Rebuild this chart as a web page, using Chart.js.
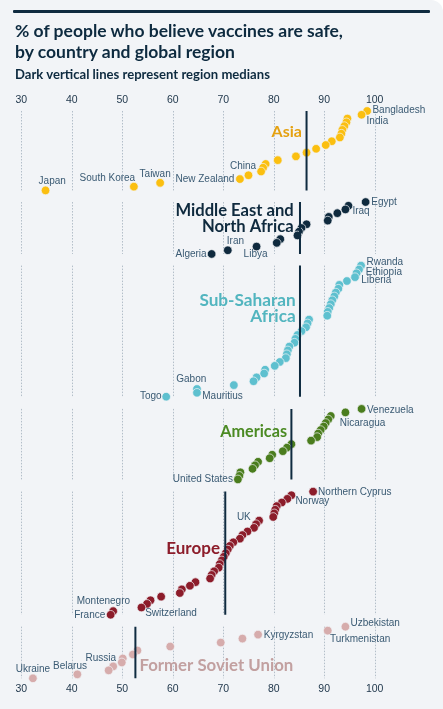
<!DOCTYPE html>
<html>
<head>
<meta charset="utf-8">
<script src="https://cdn.jsdelivr.net/npm/chart.js@4.4.1/dist/chart.umd.min.js"></script>
<style>
  html, body { margin: 0; padding: 0; background: #ffffff; }
  #card { position: relative; width: 443px; height: 709px; background: #f2f4f7; border-top-right-radius: 12px; overflow: hidden; font-family: Lato, "Noto Sans", sans-serif; }
  #bar { position: absolute; left: 13px; top: 9.5px; width: 417px; height: 3px; background: #0f2b40; border-radius: 1px; }
  #title { position: absolute; left: 15px; top: 20px; margin: 0; font-size: 17.5px; line-height: 21px; font-weight: 700; color: #0d2a3f; }
  #sub { position: absolute; left: 15px; top: 65.5px; margin: 0; font-size: 13.1px; line-height: 16px; font-weight: 700; color: #0d2a3f; }
  canvas { position: absolute; left: 0; top: 0; }
</style>
</head>
<body>
<div id="card">
  <canvas id="chart" width="443" height="709"></canvas>
  <div id="bar"></div>
  <h1 id="title">% of people who believe vaccines are safe,<br>by country and global region</h1>
  <h2 id="sub">Dark vertical lines represent region medians</h2>
</div>
<script>
// values per region, sorted from highest to lowest (rank 0 = top row)
const regionNames = ['Asia', 'Middle East and North Africa', 'Sub-Saharan Africa', 'Americas', 'Europe', 'Former Soviet Union'];
const asiaValues = [98.5, 97.4, 94.6, 94.4, 94.0, 93.6, 93.4, 93.1, 91.5, 90.3, 88.4, 86.5, 84.4, 80.8, 78.4, 77.9, 77.5, 75.0, 73.3, 57.5, 52.3, 34.8];
const menaValues = [98.2, 94.8, 94.2, 92.6, 90.9, 90.7, 86.5, 85.5, 85.0, 84.7, 81.3, 80.6, 76.6, 70.9, 67.7];
const ssaValues = [97.3, 96.9, 96.4, 96.1, 94.5, 93.0, 92.8, 92.3, 92.0, 91.6, 91.3, 91.0, 90.7, 90.6, 87.0, 86.7, 86.4, 85.5, 84.7, 84.3, 84.1, 83.1, 82.8, 82.6, 82.4, 81.2, 80.2, 78.3, 78.1, 76.6, 76.0, 72.1, 64.8, 64.8, 58.7];
const americasValues = [97.4, 94.2, 91.3, 90.8, 90.3, 89.9, 89.3, 88.8, 88.6, 87.4, 83.5, 82.6, 81.8, 79.7, 79.2, 76.9, 76.3, 75.8, 73.4, 73.2, 72.9];
const europeValues = [87.8, 83.5, 82.7, 81.6, 80.6, 80.3, 80.1, 79.9, 77.1, 76.5, 76.1, 74.8, 73.8, 73.3, 72.0, 71.3, 70.9, 70.5, 70.1, 69.7, 69.3, 69.1, 68.2, 67.7, 67.4, 64.5, 63.4, 61.8, 61.4, 57.7, 55.6, 54.9, 53.8, 48.2, 47.7];
const fsuValues = [94.2, 90.7, 76.9, 73.8, 69.5, 59.5, 53.0, 52.1, 50.1, 49.9, 48.2, 47.3, 41.1, 32.3];
const regionMedians = [86.5, 85.2, 85.2, 83.5, 70.4, 52.6];

// labelled countries: [rank within region, name]
const asiaLabels = [[0, 'Bangladesh'], [1, 'India'], [15, 'China'], [18, 'New Zealand'], [19, 'Taiwan'], [20, 'South Korea'], [21, 'Japan']];
const menaLabels = [[0, 'Egypt'], [2, 'Iraq'], [12, 'Libya'], [13, 'Iran'], [14, 'Algeria']];
const ssaLabels = [[0, 'Rwanda'], [2, 'Ethiopia'], [3, 'Liberia'], [32, 'Gabon'], [33, 'Mauritius'], [34, 'Togo']];
const americasLabels = [[0, 'Venezuela'], [2, 'Nicaragua'], [20, 'United States']];
const europeLabels = [[0, 'Northern Cyprus'], [1, 'Norway'], [8, 'UK'], [32, 'Switzerland'], [33, 'Montenegro'], [34, 'France']];
const fsuLabels = [[0, 'Uzbekistan'], [1, 'Turkmenistan'], [2, 'Kyrgyzstan'], [8, 'Russia'], [12, 'Belarus'], [13, 'Ukraine']];

const xTicks = [30, 40, 50, 60, 70, 80, 90, 100];

const regionValues = [asiaValues, menaValues, ssaValues, americasValues, europeValues, fsuValues];
const regionLabels = [asiaLabels, menaLabels, ssaLabels, americasLabels, europeLabels, fsuLabels];

// layout / style
const dotColors = ['#fbbf10', '#0f2a3e', '#5ec0cf', '#4b7d1e', '#8c1c2a', '#d6acac'];
const titleColors = ['#e5a110', '#0f2a3e', '#52b5bf', '#4b8a23', '#8c1c2a', '#c2a0a0'];
const panels = [ // height px, pad above first row, pad below last row
  { id: 'yAsia', h: 89.3, pt: 3.4, pb: 5.9 },
  { id: 'yMena', h: 64, pt: 5.8, pb: 5.9 },
  { id: 'ySsa', h: 144, pt: 5.8, pb: 6.2 },
  { id: 'yAm', h: 83.3, pt: 6.1, pb: 6.2 },
  { id: 'yEu', h: 136.1, pt: 6.1, pb: 6.0 },
  { id: 'yFsu', h: 59.7, pt: 6.0, pb: 1.7 }
];
// region title: align, dx from median line, dy from first row, lines
const regionTitles = [
  { align: 'right', dx: -4.7, dy: 20.7, lines: ['Asia'], size: 16 },
  { align: 'right', dx: -6.3, dy: 8.3, lines: ['Middle East and', 'North Africa'], size: 16.6 },
  { align: 'right', dx: -4.3, dy: 35, lines: ['Sub-Saharan', 'Africa'], size: 17.2 },
  { align: 'right', dx: -4.4, dy: 23, lines: ['Americas'], size: 16.2 },
  { align: 'right', dx: -5.3, dy: 56.7, lines: ['Europe'], size: 17 },
  { align: 'left', dx: 4, dy: 38.7, lines: ['Former Soviet Union'], size: 16.8 }
];
const labelPlace = {
  'Bangladesh': ['left', 5.3, -1], 'India': ['left', 5, 6], 'China': ['right', -7, -1], 'New Zealand': ['right', -5.5, 0],
  'Taiwan': ['center', -5, -8.7], 'South Korea': ['right', 1.3, -8.6], 'Japan': ['center', 6.7, -9.3],
  'Egypt': ['left', 5.7, 0], 'Iraq': ['left', 7, 1.4], 'Iran': ['left', -1, -9.3], 'Libya': ['center', -1, 7.7], 'Algeria': ['right', -5, 0],
  'Rwanda': ['left', 5.4, -3], 'Ethiopia': ['left', 9.3, -1], 'Liberia': ['left', 6.3, 3], 'Gabon': ['center', -5.7, -9.3],
  'Mauritius': ['left', 5.3, 3.7], 'Togo': ['right', -4.6, 0],
  'Venezuela': ['left', 5.4, 1], 'Nicaragua': ['left', 9, 7.7], 'United States': ['right', -5, 0],
  'Northern Cyprus': ['left', 5, 1], 'Norway': ['left', 4, 6], 'UK': ['right', -8.3, -3], 'Switzerland': ['left', 3.7, 5.3],
  'Montenegro': ['center', -9.8, -9.4], 'France': ['right', -5.4, 0],
  'Uzbekistan': ['left', 5, -3.3], 'Turkmenistan': ['left', 2.3, 8.7], 'Kyrgyzstan': ['left', 5.7, 1], 'Russia': ['right', -6.7, -0.6],
  'Belarus': ['center', -7.3, -8], 'Ukraine': ['center', 0, -8.6]
};

const tickFont = { family: 'Liberation Sans', size: 10.5 };
const scales = {
  x: { type: 'linear', position: 'bottom', min: 30, max: 100,
       afterBuildTicks: s => { s.ticks = xTicks.map(v => ({ value: v })); },
       grid: { display: false, drawTicks: false }, border: { display: false },
       ticks: { color: '#1d3449', font: tickFont, padding: 3 } },
  xTop: { type: 'linear', position: 'top', min: 30, max: 100,
       afterBuildTicks: s => { s.ticks = xTicks.map(v => ({ value: v })); },
       grid: { display: false, drawTicks: false }, border: { display: false },
       ticks: { color: '#1d3449', font: tickFont, padding: 1 } }
};
panels.forEach((p, i) => {
  const n = regionValues[i].length;
  const step = (p.h - p.pt - p.pb) / (n - 1);
  scales[p.id] = {
    type: 'linear', position: 'left', stack: 'regions', stackWeight: p.h, weight: 10 - i,
    reverse: true, min: -p.pt / step, max: n - 1 + p.pb / step,
    grid: { display: false, drawTicks: false }, border: { display: false }, ticks: { display: false }
  };
});

const datasets = [];
panels.forEach((p, i) => {
  const n = regionValues[i].length;
  datasets.push({
    type: 'line', label: regionNames[i] + ' median', xAxisID: 'x', yAxisID: p.id,
    data: [{ x: regionMedians[i], y: 0 }, { x: regionMedians[i], y: n - 1 }],
    borderColor: '#0f2b40', borderWidth: 2, pointRadius: 0, clip: false
  });
});
panels.forEach((p, i) => {
  datasets.push({
    type: 'scatter', label: regionNames[i], xAxisID: 'x', yAxisID: p.id,
    data: regionValues[i].map((v, k) => ({ x: v, y: k })),
    backgroundColor: dotColors[i], borderColor: '#f2f4f7', borderWidth: 0.7,
    pointRadius: 4.3, pointHoverRadius: 4.3, clip: false
  });
});

const gridPlugin = {
  id: 'panelGrid',
  beforeDatasetsDraw(chart) {
    const ctx = chart.ctx, xs = chart.scales.x;
    ctx.save();
    ctx.strokeStyle = '#b3bec9';
    ctx.lineWidth = 1;
    ctx.setLineDash([1.5, 1.5]);
    panels.forEach((p, i) => {
      const ys = chart.scales[p.id];
      const y0 = ys.getPixelForValue(0), y1 = ys.getPixelForValue(regionValues[i].length - 1);
      xTicks.forEach(v => {
        const x = Math.round(xs.getPixelForValue(v)) + 0.5;
        ctx.beginPath(); ctx.moveTo(x, y0); ctx.lineTo(x, y1); ctx.stroke();
      });
    });
    ctx.restore();
  }
};

const labelPlugin = {
  id: 'countryLabels',
  afterDatasetsDraw(chart) {
    const ctx = chart.ctx, xs = chart.scales.x;
    ctx.save();
    ctx.textBaseline = 'middle';
    // region names
    panels.forEach((p, i) => {
      const ys = chart.scales[p.id];
      const t = regionTitles[i];
      const x = xs.getPixelForValue(regionMedians[i]) + t.dx;
      const y = ys.getPixelForValue(0) + t.dy;
      ctx.font = '700 ' + t.size + 'px Lato';
      ctx.fillStyle = titleColors[i];
      ctx.textAlign = t.align;
      t.lines.forEach((line, k) => ctx.fillText(line, x, y + k * 16));
    });
    // countries
    ctx.font = '10px "Liberation Sans"';
    ctx.fillStyle = '#3a5a73';
    panels.forEach((p, i) => {
      const meta = chart.getDatasetMeta(panels.length + i);
      regionLabels[i].forEach(([idx, name]) => {
        const pt = meta.data[idx];
        const [align, dx, dy] = labelPlace[name];
        ctx.textAlign = align;
        ctx.fillText(name, pt.x + dx, pt.y + dy);
      });
    });
    ctx.restore();
  }
};

new Chart(document.getElementById('chart').getContext('2d'), {
  data: { datasets: datasets },
  options: {
    responsive: false,
    animation: false,
    events: [],
    layout: { autoPadding: false, padding: { left: 21.3, right: 68.3, top: 93, bottom: 10.4 } },
    scales: scales,
    plugins: { legend: { display: false }, tooltip: { enabled: false } }
  },
  plugins: [gridPlugin, labelPlugin]
});
</script>
</body>
</html>
